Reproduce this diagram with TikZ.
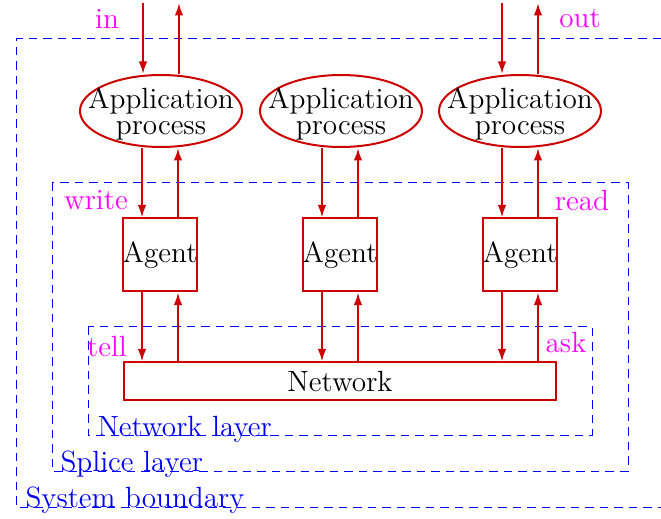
\documentclass[tikz,border=0pt]{standalone}
\usetikzlibrary{shapes.geometric,calc,arrows.meta}
\definecolor{myred}{RGB}{204,0,0}
\definecolor{mymag}{RGB}{255,0,255}
\definecolor{myblue}{RGB}{0,0,255}
\begin{document}
\begin{tikzpicture}[x=0.4pt,y=-0.4pt,
  every node/.style={font=\fontsize{11.7}{10.2}\selectfont},
  arr/.style={draw=myred, line width=0.8pt, -{Latex[length=5pt,width=3.4pt]}},
  proc/.style={ellipse, draw=myred, line width=0.8pt, minimum width=64.8pt, minimum height=28.8pt, inner sep=0pt,
    label={[align=center, inner sep=0pt, yshift=-1.2pt, font=\fontsize{11.7}{10.2}\selectfont]center:#1}},
  agentbox/.style={rectangle, draw=myred, line width=0.8pt, minimum width=29.6pt, minimum height=29.2pt, inner sep=0pt},
  netbox/.style={rectangle, draw=myred, line width=0.8pt, minimum width=172.8pt, minimum height=14.8pt, inner sep=0pt},
  layer/.style={draw=myblue, line width=0.4pt, dash pattern=on 3.4pt off 2.4pt},
  layerlabel/.style={text=myblue, anchor=base west, inner sep=0pt},
  portlabel/.style={text=mymag, inner sep=0pt}]
\useasboundingbox (0,0) rectangle (661,519);

% dashed layers
\draw[layer] (661,39) -- (16,39) -- (16,507) -- (661,507);
\draw[layer] (52,183) rectangle (628,471);
\draw[layer] (88,327) rectangle (592,435);
\node[layerlabel] (lsys) at (25,508) {System boundary};
\node[layerlabel] (lspl) at (60,472) {Splice layer};
\node[layerlabel] (lnet) at (97,436) {Network layer};

% processes
\node[proc={Application\\process}] (p1) at (161,111) {};
\node[proc={Application\\process}] (p2) at (341,111) {};
\node[proc={Application\\process}] (p3) at (520,111) {};

% agents
\node[agentbox] (a1) at (160,255) {Agent};
\node[agentbox] (a2) at (340,255) {Agent};
\node[agentbox] (a3) at (520,255) {Agent};

% network
\node[netbox] (net) at (340,381) {Network};

% outside ends
\coordinate (in1) at (143,3);
\coordinate (out1) at (179,3);
\coordinate (in3) at (502,3);
\coordinate (out3) at (538,3);

\draw[arr] (in1) -- (in1 |- p1.north);
\draw[arr] (out1 |- p1.north) -- (out1);
\draw[arr] (in3) -- (in3 |- p3.north);
\draw[arr] (out3 |- p3.north) -- (out3);

\foreach \i in {1,2,3}{
  \coordinate (dn\i) at ($(a\i.north)+(-18,0)$);
  \coordinate (up\i) at ($(a\i.north)+(18,0)$);
  \draw[arr] (dn\i |- p\i.south) -- (dn\i);
  \draw[arr] (up\i) -- (up\i |- p\i.south);
  \draw[arr] (dn\i |- a\i.south) -- (dn\i |- net.north);
  \draw[arr] (up\i |- net.north) -- (up\i |- a\i.south);
}

% port labels
\node[portlabel] (lin) at (107,19) {in};
\node[portlabel] (lout) at (580,19) {out};
\node[portlabel] (lwrite) at (96,200) {write};
\node[portlabel] (lread) at (582,200) {read};
\node[portlabel] (ltell) at (107,346) {tell};
\node[portlabel] (lask) at (566,342) {ask};
\end{tikzpicture}
\end{document}
